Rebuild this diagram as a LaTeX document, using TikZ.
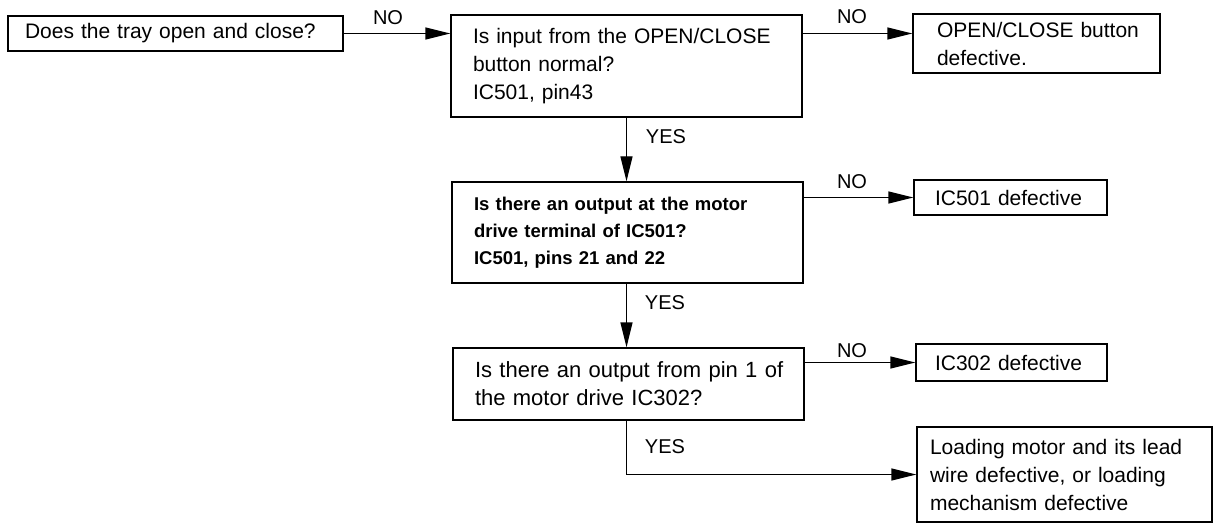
\documentclass[tikz,border=0pt]{standalone}
\usepackage{fontspec}
\setmainfont{Liberation Sans}
\usetikzlibrary{arrows.meta}
\newcommand{\ol}[1]{\mbox{#1}}
\begin{document}
\begin{tikzpicture}[x=1pt,y=-1pt,
  box/.style={draw, line width=1.3pt, inner xsep=0pt, inner ysep=0pt, align=left,
    font=\fontsize{21}{28}\selectfont},
  boldbox/.style={box, font=\fontsize{18.5}{27}\selectfont\bfseries},
  arr/.style={line width=1.3pt, -{Triangle[length=25pt,width=12pt]}},
  lab/.style={font=\fontsize{20}{22}\selectfont, inner sep=0pt}]
\useasboundingbox (0,0) rectangle (1213,524);

\node[box, minimum width=335pt, minimum height=35pt, text width=301pt] (A) at (175.5,33.5)
  {\ol{Does the tray open and close?}};
\node[box, minimum width=351pt, minimum height=102pt, text width=307pt] (B) at (626.5,66)
  {\ol{Is input from the OPEN/CLOSE}\\\ol{button normal?}\\\ol{IC501, pin43}};
\node[box, minimum width=247pt, minimum height=59pt, text width=199pt] (C) at (1036.5,43.5)
  {\ol{OPEN/CLOSE button}\\\ol{defective.}};
\node[boldbox, minimum width=351pt, minimum height=101pt, text width=307pt] (D) at (627.5,232.5)
  {\ol{Is there an output at the motor}\\\ol{drive terminal of IC501?}\\\ol{IC501, pins 21 and 22}};
\node[box, minimum width=193pt, minimum height=35pt, text width=151pt] (E) at (1010.5,197.5)
  {\ol{IC501 defective}};
\node[box, font=\fontsize{22}{28}\selectfont, minimum width=351pt, minimum height=72pt, text width=307pt] (F) at (628.5,384)
  {\ol{Is there an output from pin 1 of}\\\ol{the motor drive IC302?}};
\node[box, minimum width=191pt, minimum height=37pt, text width=153pt] (G) at (1011.5,362.5)
  {\ol{IC302 defective}};
\node[box, minimum width=295pt, minimum height=95pt, text width=269pt] (H) at (1064.5,474.5)
  {\ol{Loading motor and its lead}\\\ol{wire defective, or loading}\\\ol{mechanism defective}};

\draw[arr] (A.east) -- (A.east -| B.west);
\draw[arr] (B.east |- A.east) -- (C.west |- A.east);
\draw[arr] (B.south) -- (B.south |- D.north);
\draw[arr] (D.east |- E.west) -- (E.west);
\draw[arr] (D.south -| B.south) -- (B.south |- F.north);
\draw[arr] (F.east |- G.west) -- (G.west);
\draw[arr] (F.south -| B.south) |- (H.west);

\node[lab] (no1) at (388,18) {NO};
\node[lab] (no2) at (852,17) {NO};
\node[lab] (no3) at (852,182) {NO};
\node[lab] (no4) at (852,351) {NO};
\node[lab] (yes1) at (666,137) {YES};
\node[lab] (yes2) at (665,303) {YES};
\node[lab] (yes3) at (665,447) {YES};
\end{tikzpicture}
\end{document}
